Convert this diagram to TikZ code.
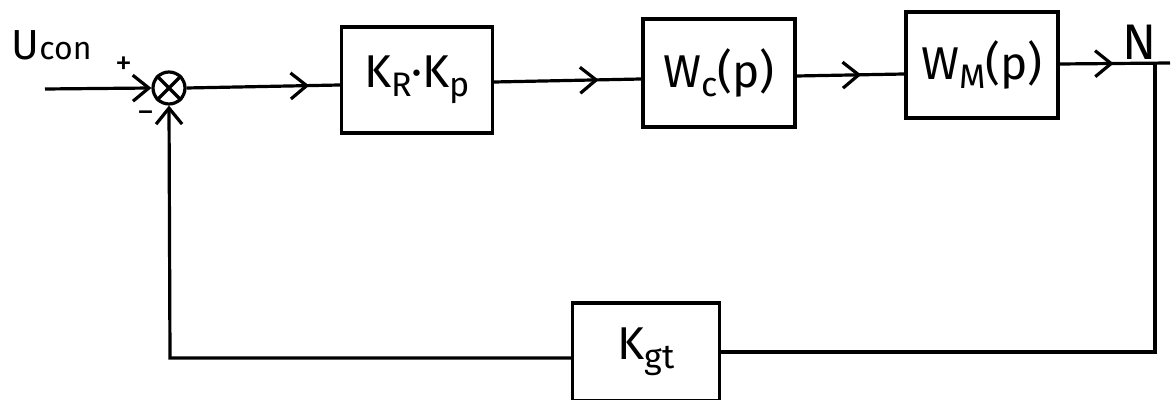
\documentclass[tikz,border=0pt]{standalone}
\usepackage{fontspec}
\setmainfont{Fira Sans}
\usetikzlibrary{arrows.meta,decorations.markings}
\newcommand{\sbs}[1]{\raisebox{-0.35ex}{\fontsize{17}{20}\selectfont #1}}
\begin{document}
\begin{tikzpicture}[x=0.5pt,y=-0.5pt,
  line width=1.6pt,
  lbl/.style={font=\fontsize{23}{27}\selectfont},
  midarr/.style={postaction={decorate}, decoration={markings,
     mark=at position #1 with {\arrow[line width=1.6pt]{Straight Barb[length=8pt,width=13pt]}}}},
  endarr/.style={-{Straight Barb[length=8pt,width=13pt]}}
]
\useasboundingbox (0,0) rectangle (1175,400);
% nodes
\node[draw, circle, minimum size=16pt, inner sep=0pt, line width=1.6pt] (s) at (169,88) {};
\draw (s.north west) -- (s.south east) (s.north east) -- (s.south west);
\node[draw, minimum width=75.5pt, minimum height=53pt, lbl] (b1) at (417,80) {K\sbs{R}·K\sbs{p}};
\node[draw, minimum width=76pt, minimum height=54pt, lbl] (b2) at (719,73) {W\sbs{c}(p)};
\node[draw, minimum width=76pt, minimum height=53pt, lbl] (b3) at (982,65) {W\sbs{M}(p)};
\node[draw, minimum width=73.5pt, minimum height=49pt, lbl] (fb) at (646,352) {K\sbs{gt}};
% labels
\node[anchor=base west, inner sep=0pt, font=\fontsize{21}{24}\selectfont] (u) at (10,60) {U{\fontsize{16}{18}\selectfont con}};
\node[font=\fontsize{17}{20}\selectfont] (plus) at (124,66) {+};
\node[font=\fontsize{17}{20}\selectfont] (minus) at (146,117) {−};
\node[font=\fontsize{25}{28}\selectfont] (n) at (1140,42) {N};
% coordinates
\coordinate (in) at (45,89);
\coordinate (tap) at (1155,63);
\coordinate (out) at (1170,63);
\coordinate (fbR) at (1155,352);
\coordinate (fbL) at (170,358);
% connectors
\draw[endarr] (in) -- (s.west);
\draw[midarr=0.8] (s.east) -- (b1.west |- 0,85);
\draw[midarr=0.71] (b1.east |- 0,82) -- (b2.west |- 0,79);
\draw[midarr=0.6] (b2.east |- 0,76) -- (b3.west |- 0,74);
\draw[midarr=0.49] (b3.east |- 0,64) -- (out);
\draw (tap) -- (fbR) -- (fb.east |- fbR);
\draw[endarr] (fb.west |- fbL) -- (fbL) -- (s.south);
\end{tikzpicture}
\end{document}
